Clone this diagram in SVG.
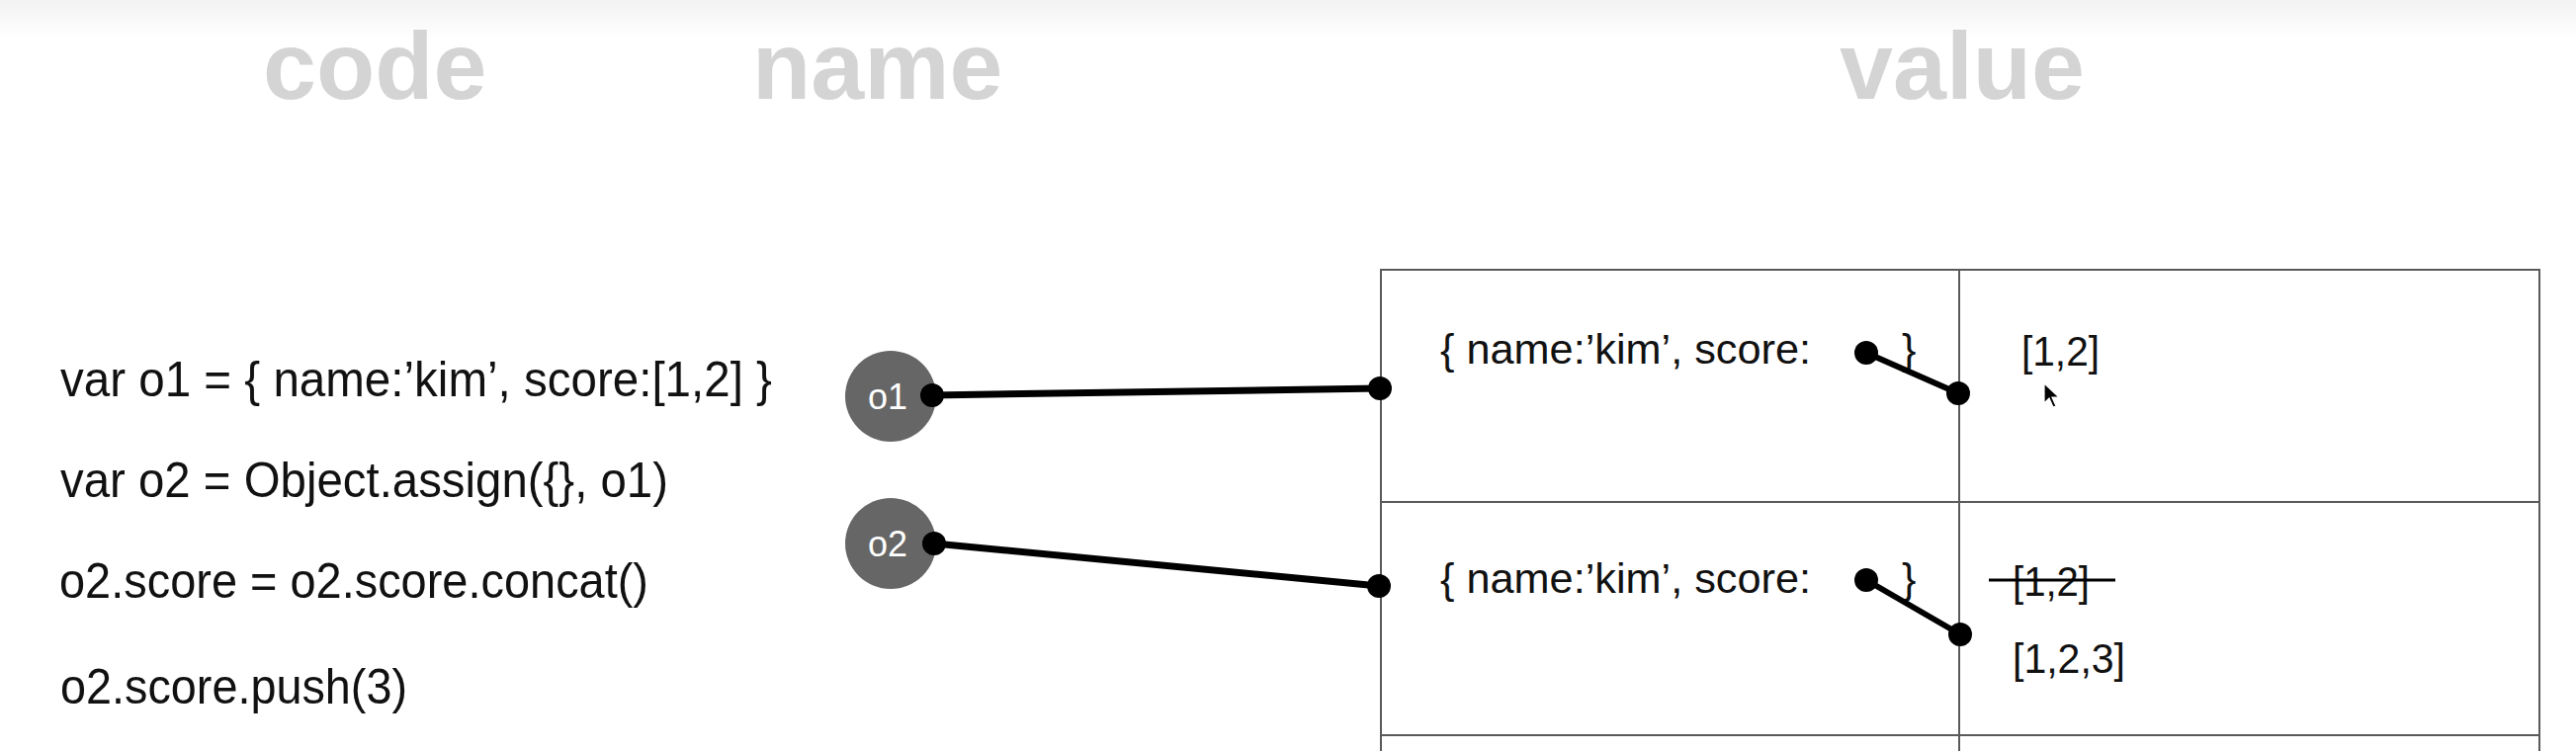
<svg xmlns="http://www.w3.org/2000/svg" width="2606" height="760" viewBox="0 0 2606 760">
<defs>
<linearGradient id="topfade" x1="0" y1="0" x2="0" y2="1">
<stop offset="0" stop-color="#f2f2f2"/>
<stop offset="1" stop-color="#ffffff"/>
</linearGradient>
</defs>
<style>
.head{font-family:"Liberation Sans",Arial,sans-serif;font-weight:bold;font-size:97px;fill:#d4d4d4}
.code{font-family:"Liberation Sans",Arial,sans-serif;font-size:50px;fill:#111}
.val{font-family:"Liberation Sans",Arial,sans-serif;font-size:43px;fill:#111}
.grid{stroke:#5a5a5a;stroke-width:2;fill:none}
.conn{stroke:#000;stroke-width:7;stroke-linecap:round;fill:none}
.inner{stroke:#000;stroke-width:6;stroke-linecap:round;fill:none}
.dot{fill:#000}
.var{fill:#666}
.varlabel{font-family:"Liberation Sans",Arial,sans-serif;font-size:36px;fill:#fff}
</style>
<rect x="0" y="0" width="2606" height="760" fill="#fff"/>
<rect x="0" y="0" width="2606" height="40" fill="url(#topfade)"/>
<g id="headings">
<text class="head" x="266" y="100">code</text>
<text class="head" x="761" y="100">name</text>
<text class="head" x="1861" y="100">value</text>
</g>
<g id="code">
<text class="code" x="61" y="401" textLength="720" lengthAdjust="spacingAndGlyphs">var o1 = { name:’kim’,  score:[1,2] }</text>
<text class="code" x="61" y="503" textLength="615" lengthAdjust="spacingAndGlyphs">var o2 = Object.assign({}, o1)</text>
<text class="code" x="60" y="605" textLength="596" lengthAdjust="spacingAndGlyphs">o2.score = o2.score.concat()</text>
<text class="code" x="61" y="712" textLength="351" lengthAdjust="spacingAndGlyphs">o2.score.push(3)</text>
</g>
<g id="table">
<rect class="grid" x="1397" y="273" width="1172" height="600"/>
<line class="grid" x1="1982" y1="273" x2="1982" y2="760"/>
<line class="grid" x1="1397" y1="508" x2="2569" y2="508"/>
<line class="grid" x1="1397" y1="744" x2="2569" y2="744"/>
</g>
<g id="obj1">
<text class="val" x="1457" y="368" textLength="375" lengthAdjust="spacingAndGlyphs">{ name:’kim’,  score:</text>
<text class="val" x="1924" y="368">}</text>
</g>
<g id="obj2">
<text class="val" x="1457" y="600" textLength="375" lengthAdjust="spacingAndGlyphs">{ name:’kim’,  score:</text>
<text class="val" x="1924" y="600">}</text>
</g>
<g id="arr1">
<text class="val" x="2045" y="370" textLength="79" lengthAdjust="spacingAndGlyphs">[1,2]</text>
</g>
<g id="arr2">
<text class="val" x="2036" y="603" textLength="78" lengthAdjust="spacingAndGlyphs">[1,2]</text>
<line x1="2012" y1="587" x2="2140" y2="587" stroke="#000" stroke-width="3"/>
<text class="val" x="2036" y="681" textLength="114" lengthAdjust="spacingAndGlyphs">[1,2,3]</text>
</g>
<g id="o1">
<circle class="var" cx="901" cy="401" r="46"/>
<text class="varlabel" x="878" y="414">o1</text>
</g>
<g id="o2">
<circle class="var" cx="901" cy="550" r="46"/>
<text class="varlabel" x="878" y="563">o2</text>
</g>
<g id="connectors">
<line class="conn" x1="943" y1="400" x2="1396" y2="393"/>
<line class="conn" x1="945" y1="550" x2="1395" y2="593"/>
<line class="inner" x1="1888" y1="357" x2="1981" y2="398"/>
<line class="inner" x1="1888" y1="587" x2="1983" y2="642"/>
<circle class="dot" cx="943" cy="400" r="12"/>
<circle class="dot" cx="1396" cy="393" r="12"/>
<circle class="dot" cx="945" cy="550" r="12"/>
<circle class="dot" cx="1395" cy="593" r="12"/>
<circle class="dot" cx="1888" cy="357" r="12"/>
<circle class="dot" cx="1981" cy="398" r="12"/>
<circle class="dot" cx="1888" cy="587" r="12"/>
<circle class="dot" cx="1983" cy="642" r="12"/>
</g>
<g id="cursor">
<path d="M2068 388 L2068 408 L2073 403 L2077 412 L2080 411 L2076 402 L2083 402 Z" fill="#000" stroke="#fff" stroke-width="1.2"/>
</g>
</svg>
